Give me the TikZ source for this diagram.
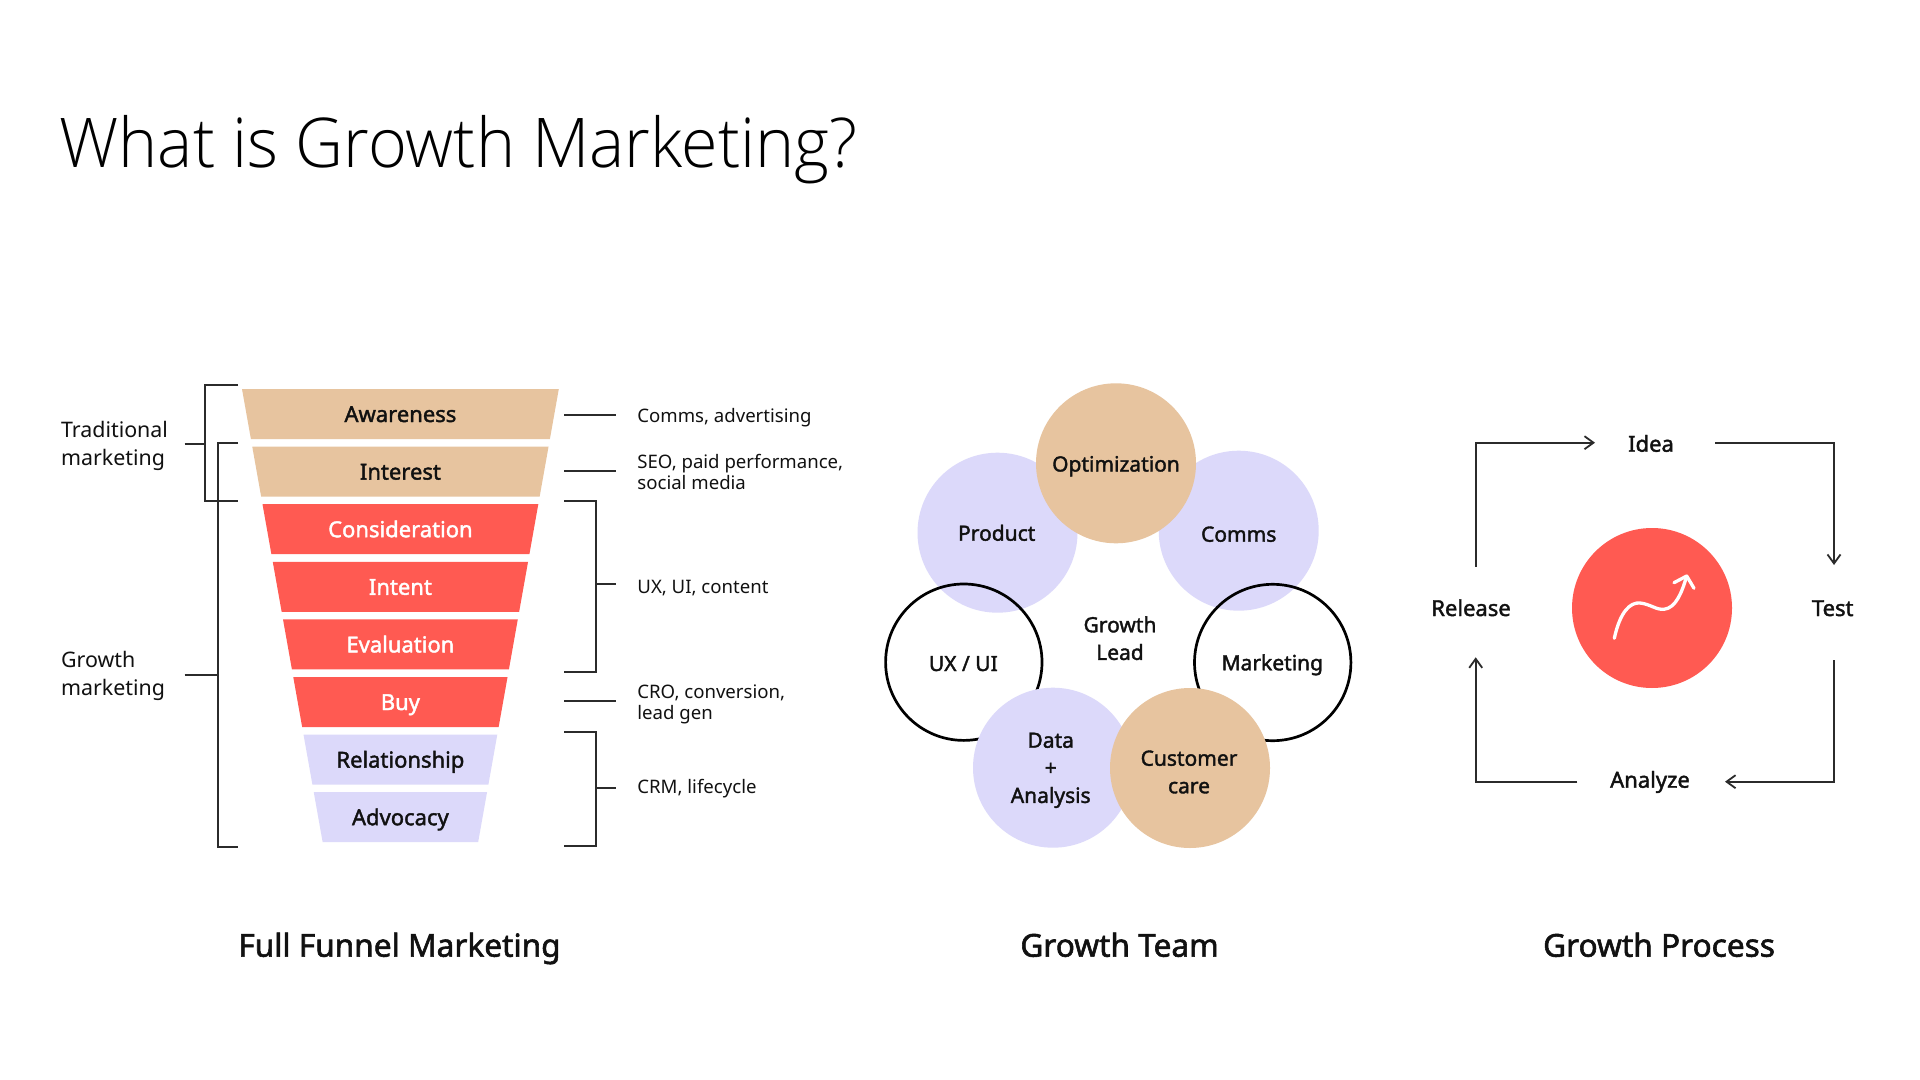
\documentclass[tikz,border=0pt]{standalone}
\usepackage{fontspec}
\setmainfont{Noto Sans}
\newfontfamily\medf{Noto Sans}[FakeBold=1.8]
\IfFontExistsTF{Noto Sans Light}{\newfontfamily\lightf{Noto Sans Light}[FakeStretch=0.968]}{%
  \IfFontExistsTF{Open Sans Light}{\newfontfamily\lightf{Open Sans Light}[FakeStretch=0.968]}{%
    \newfontfamily\lightf{Noto Sans}[FakeStretch=0.91]}}
\usetikzlibrary{arrows.meta}
\definecolor{ftan}{HTML}{E7C49F}
\definecolor{fred}{HTML}{FF5A52}
\definecolor{flav}{HTML}{DCD9FA}
\definecolor{ink}{HTML}{2B2B2B}
\definecolor{txt}{HTML}{111111}
\newcommand\lnsl[1]{\begin{tabular}[t]{@{}l@{}}#1\end{tabular}}
\newcommand\lnsc[1]{\begin{tabular}[t]{@{}c@{}}#1\end{tabular}}
\begin{document}
\begin{tikzpicture}[x=0.5pt,y=-0.5pt,
  bandtxt/.style={font=\medf\fontsize{11}{13.75}\selectfont, inner sep=0, anchor=base},
  sidelbl/.style={font=\fontsize{10.7}{13.7}\selectfont, inner sep=0, anchor=base west, text=txt},
  notelbl/.style={font=\fontsize{9.3}{10.5}\selectfont, inner sep=0, anchor=base west, text=txt},
  teamtxt/.style={font=\medf\fontsize{10.5}{13.8}\selectfont, inner sep=0, anchor=base, text=txt},
  proctxt/.style={font=\medf\fontsize{11}{13.8}\selectfont, inner sep=0, anchor=base, text=txt},
  subttl/.style={font=\medf\fontsize{15.8}{18}\selectfont, inner sep=0, anchor=base, text=txt},
  brk/.style={draw=ink, line width=1pt},
  teamdisk/.style={circle, minimum size=80pt, inner sep=0},
  teamring/.style={circle, minimum size=78.2pt, inner sep=0, draw=black, line width=1.35pt},
  flow/.style={draw=ink, line width=0.9pt, -{Straight Barb[length=4.5pt,width=6.5pt]}},
  trendline/.style={draw=white, line width=1.65pt, line cap=round, line join=round}
]
\fill[white] (0,0) rectangle (1920,1080);
\path[use as bounding box] (0,0) rectangle (1920,1080);

% title
\node[font=\lightf\fontsize{34.3}{40}\selectfont, anchor=base west, inner sep=0] (title) at (59,167.3) {What is Growth Marketing?};

% funnel
\foreach \i/\col/\txtl/\tcol in {0/ftan/Awareness/txt,1/ftan/Interest/txt,2/fred/Consideration/white,3/fred/Intent/white,4/fred/Evaluation/white,5/fred/Buy/white,6/flav/Relationship/txt,7/flav/Advocacy/txt}{
  \pgfmathsetmacro\btop{389+57.6*\i}
  \pgfmathsetmacro\bbot{\btop+50}
  \pgfmathsetmacro\wtop{158.4-0.178*(\btop-389)}
  \pgfmathsetmacro\wbot{158.4-0.178*(\bbot-389)}
  \fill[\col] (400.4-\wtop,\btop) -- (400.4+\wtop,\btop) -- (400.4+\wbot,\bbot) -- (400.4-\wbot,\bbot) -- cycle;
  \node[bandtxt, text=\tcol] (band\i) at (400.4,\btop+33) {\txtl};
}

% left brackets
\draw[brk] (238,385) -- (205,385) -- (205,500.7) -- (238,500.7);
\draw[brk] (184.6,444) -- (205,444);
\draw[brk] (238,443.3) -- (218,443.3) -- (218,846.7) -- (238,846.7);
\draw[brk] (184.6,675) -- (218,675);
\node[sidelbl] (trad) at (60.7,437.7) {\lnsl{Traditional\\marketing}};
\node[sidelbl] (grow) at (60.7,667.7) {\lnsl{Growth\\marketing}};

% right brackets
\draw[brk] (564,415) -- (616,415);
\draw[brk] (564,471) -- (616,471);
\draw[brk] (564,501) -- (596,501) -- (596,672) -- (564,672);
\draw[brk] (596,584) -- (616,584);
\draw[brk] (564,701) -- (616,701);
\draw[brk] (564,732) -- (596,732) -- (596,846) -- (564,846);
\draw[brk] (596,788) -- (616,788);
\node[notelbl] (n1) at (637,422) {Comms, advertising};
\node[notelbl] (n2) at (637,468) {\lnsl{SEO, paid performance,\\social media}};
\node[notelbl] (n3) at (637,593) {UX, UI, content};
\node[notelbl] (n4) at (637,698) {\lnsl{CRO, conversion,\\lead gen}};
\node[notelbl] (n5) at (637,793) {CRM, lifecycle};
\node[subttl] (s1) at (399.5,956.7) {Full Funnel Marketing};

% growth team
\node[teamdisk, fill=flav] (product) at (997.5,532.7) {};
\node[teamdisk, fill=flav] (comms) at (1238.7,530.7) {};
\node[teamdisk, fill=ftan] (optim) at (1116,463.3) {};
\node[teamring] (uxui) at (963.8,662.2) {};
\node[teamring] (mkt) at (1272.7,662.5) {};
\node[teamdisk, fill=flav] (data) at (1053,767.7) {};
\node[teamdisk, fill=ftan] (cust) at (1190,768) {};
\node[teamtxt] (optimT) at (1116,471.5) {Optimization};
\node[teamtxt] (productT) at (996.7,540.7) {Product};
\node[teamtxt] (commsT) at (1238.7,541.7) {Comms};
\node[teamtxt] (leadT) at (1120,632.3) {\lnsc{Growth\\Lead}};
\node[teamtxt] (uxuiT) at (963.3,671) {UX / UI};
\node[teamtxt] (mktT) at (1272.3,670.3) {Marketing};
\node[teamtxt] (dataT) at (1050.7,747.7) {\lnsc{Data\\+\\Analysis}};
\node[teamtxt] (custT) at (1189,765.7) {\lnsc{Customer\\care}};
\node[subttl] (s2) at (1119.5,956.7) {Growth Team};

% growth process
\node[teamdisk, fill=fred] (trend) at (1652,608) {};
\draw[trendline] (1614.3,638.3) .. controls (1620,612) and (1630,602) .. (1640,603) .. controls (1650,604) and (1656,610) .. (1664,609.3) .. controls (1676,608) and (1682,592) .. (1686.7,576);
\draw[trendline] (1674,582.7) -- (1686.7,576) -- (1694,588.3);
\node[proctxt] (idea) at (1651,451.7) {Idea};
\node[proctxt] (release) at (1471,616) {Release};
\node[proctxt] (test) at (1832.7,616) {Test};
\node[proctxt] (analyze) at (1650,787.7) {Analyze};
\coordinate (relTop) at (1475.7,566.7);
\coordinate (ideaIn) at (1595,442.7);
\coordinate (ideaOut) at (1715.3,442.7);
\coordinate (testIn) at (1834,565);
\coordinate (testOut) at (1834,660);
\coordinate (anaIn) at (1725,781.7);
\coordinate (anaOut) at (1577.3,781.7);
\coordinate (relIn) at (1475.7,657.3);
\draw[flow] (relTop) |- (ideaIn);
\draw[flow] (ideaOut) -| (testIn);
\draw[flow] (testOut) |- (anaIn);
\draw[flow] (anaOut) -| (relIn);
\node[subttl] (s3) at (1659,956.7) {Growth Process};
\end{tikzpicture}
\end{document}
